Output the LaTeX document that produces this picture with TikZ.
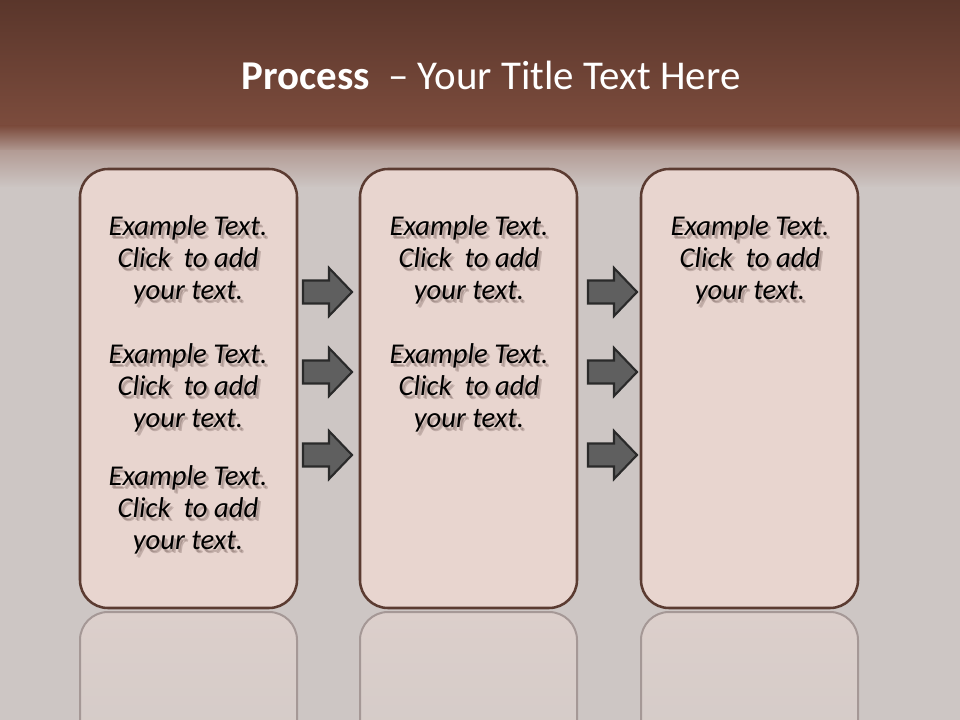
\documentclass[tikz,border=0pt]{standalone}
\usepackage{fontspec}
\setmainfont{Carlito}
\definecolor{titletop}{HTML}{5A362B}
\definecolor{titlebot}{HTML}{7C4C3D}
\definecolor{fademid}{HTML}{B39C95}
\definecolor{bg}{HTML}{CDC6C4}
\definecolor{boxfill}{HTML}{E8D5CF}
\definecolor{boxline}{HTML}{5B3B31}
\definecolor{arrfill}{HTML}{5F5F5F}
\definecolor{arrline}{HTML}{2A2A2A}
\definecolor{reflline}{HTML}{A59896}
\definecolor{refltop}{HTML}{DCCFCB}
\definecolor{reflbot}{HTML}{D2CAC7}
\definecolor{shadowcol}{HTML}{6B5550}
\tikzset{
  procbox/.style={draw=boxline, fill=boxfill, line width=1.9pt, rounded corners=21pt,
    minimum width=162.75pt, minimum height=329.25pt, inner sep=0pt},
  reflbox/.style={draw=reflline, line width=1.5pt, top color=refltop, bottom color=reflbot},
  arrowst/.style={fill=arrfill, draw=arrline, line width=1.6pt, line join=miter},
  txt/.style={align=center, font=\fontsize{21.5}{24}\selectfont\itshape, text=black, inner sep=0pt},
  txtsh/.style={txt, text=shadowcol, text opacity=0.3},
  arr/.pic={\path[arrowst] (0,-11.5) -- (26,-11.5) -- (26,-24) -- (49,0) -- (26,24) -- (26,11.5) -- (0,11.5) -- cycle;}
}
\newcommand\shtext[4]{%
  \node[txtsh, xshift=1.4pt, yshift=-2.0pt] at (#2,#3) {#4};
  \node[txtsh, xshift=2.4pt, yshift=-2.6pt] at (#2,#3) {#4};
  \node[txt] (#1) at (#2,#3) {#4};}
\begin{document}
\begin{tikzpicture}[x=0.75pt,y=-0.75pt]
\useasboundingbox (0,0) rectangle (960,720);
% background
\shade[top color=titletop, bottom color=titlebot] (0,0) rectangle (960,127);
\shade[top color=titlebot, bottom color=fademid] (0,126) rectangle (960,152);
\shade[top color=fademid, bottom color=bg] (0,151) rectangle (960,188);
\fill[bg] (0,187) rectangle (960,720);
% title
\node[text=white, font=\fontsize{30.7}{36}\selectfont, inner sep=0pt] (title) at (491,75)
  {\textbf{Process}~~– Your Title Text Here};
% reflections
\begin{scope}
\clip (0,0) rectangle (960,720);
\foreach \x in {80,360,641}{
  \path[reflbox, rounded corners=21pt] (\x,780) -- (\x,612) -- (\x+217,612) -- (\x+217,780);
}
\end{scope}
% boxes
\node[procbox] (b1) at (188.5,388.5) {};
\node[procbox] (b2) at (468.5,388.5) {};
\node[procbox] (b3) at (749.5,388.5) {};
% arrows
\foreach \y/\n in {292/1,372/2,455/3}{
  \pic (a1\n) at (303,\y) {arr};
  \pic (a2\n) at (588,\y) {arr};
}
% texts
\shtext{t11}{188}{260}{Example Text.\\Click~ to add\\your text.}
\shtext{t12}{188}{388}{Example Text.\\Click~ to add\\your text.}
\shtext{t13}{188}{510}{Example Text.\\Click~ to add\\your text.}
\shtext{t21}{469}{260}{Example Text.\\Click~ to add\\your text.}
\shtext{t22}{469}{388}{Example Text.\\Click~ to add\\your text.}
\shtext{t31}{750}{260}{Example Text.\\Click~ to add\\your text.}
\end{tikzpicture}
\end{document}
